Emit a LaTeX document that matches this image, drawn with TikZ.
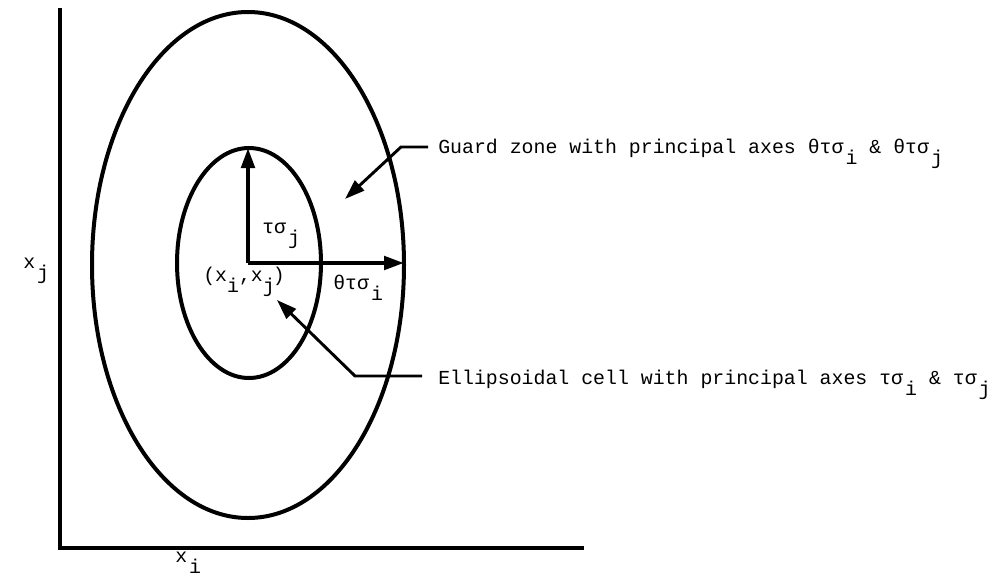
\documentclass[tikz,border=0pt]{standalone}
\usepackage{fontspec}
\newfontfamily\tw{Liberation Mono}
\usetikzlibrary{arrows.meta}
\newcommand\lowsub[1]{\kern0.1em\raisebox{-0.6em}{#1}}
\tikzset{
  px/.style={x=0.75pt,y=-0.75pt},
  thick line/.style={line width=3pt},
  leader/.style={line width=2.2pt},
  bigtip/.style={-{Triangle[length=15pt,width=10pt]}},
  lbl/.style={font=\tw\fontsize{14.9pt}{16pt}\selectfont, inner sep=0pt, anchor=base west},
}
\begin{document}
\begin{tikzpicture}[px]
\useasboundingbox (0,0) rectangle (1001,579);
% axes
\coordinate (ytop) at (60,8);
\coordinate (orig) at (60,548);
\coordinate (xend) at (584,548);
\draw[thick line] (ytop) -- (orig) -- (xend);
% ellipses
\coordinate (c) at (248,263);
\draw[thick line] (248,265) ellipse [x radius=156, y radius=253];
\draw[thick line] (249,263) ellipse [x radius=72, y radius=115];
% principal axes arrows
\coordinate (itop) at (248,148);
\coordinate (oright) at (404,263);
\draw[thick line, bigtip] (c) -- (itop);
\draw[thick line, bigtip] (c) -- (oright);
% labels
\node[lbl] (tsj) at (262,233) {τσ\lowsub{j}};
\node[lbl] (ttsi) at (333,289) {θτσ\lowsub{i}};
\node[lbl] (xij) at (203,281) {(x\kern-0.1em\lowsub{i},x\kern-0.1em\lowsub{j}\kern-0.1em)};
\node[lbl] (xj) at (23,268) {x\lowsub{j}};
\node[lbl] (xi) at (175,562) {x\lowsub{i}};
\node[lbl] (guard) at (438,153) {Guard zone with principal axes θτσ\lowsub{i} \& θτσ\lowsub{j}};
\node[lbl] (cell) at (438,384) {Ellipsoidal cell with principal axes τσ\lowsub{i} \& τσ\lowsub{j}};
% leaders
\coordinate (g1) at (428,147);
\coordinate (g2) at (401,147);
\coordinate (gtip) at (345,199);
\draw[leader, bigtip] (g1) -- (g2) -- (gtip);
\coordinate (e1) at (422,376);
\coordinate (e2) at (355,376);
\coordinate (etip) at (277,300);
\draw[leader, bigtip] (e1) -- (e2) -- (etip);
\end{tikzpicture}
\end{document}
